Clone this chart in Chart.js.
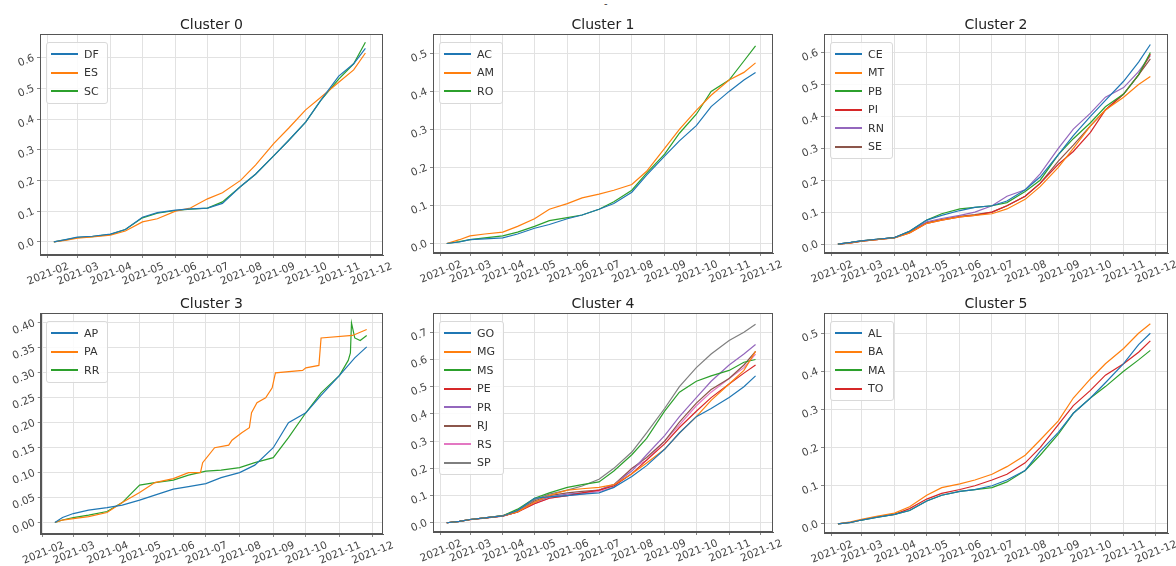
<!DOCTYPE html>
<html lang="pt">
<head>
  <meta charset="UTF-8" />
  <title>Clusters</title>
  <script src="https://cdn.jsdelivr.net/npm/chart.js"></script>
  <style>
    * { box-sizing: border-box; margin: 0; padding: 0; }
    body { background: #fff; font-family: 'DejaVu Sans', sans-serif; }
    #page { position: relative; width: 1176px; height: 566px; overflow: hidden; }
    .panel { position: absolute; }
    .panel canvas { display: block; }
    .title { position: absolute; font-size: 14px; color: #222; text-align: center; white-space: nowrap; }
    .legend { position: absolute; background: rgba(255,255,255,0.85); border: 1px solid #d9d9d9; border-radius: 3px; padding: 2px 8px 2px 4px; }
    .legend div { display: flex; align-items: center; height: 18.5px; font-size: 11px; color: #333; }
    .legend .sw { display: inline-block; width: 27px; height: 2px; margin-right: 6px; }
    .dash { position: absolute; left: 604px; top: -2px; font-size: 10px; color: #444; }
  </style>
</head>
<body>
  <div id="page"><div class="dash">-</div></div>

  <script>
    // sample dates (read every ~2 weeks off the picture)
    const dates = ['2021-02-07','2021-02-19','2021-03-01','2021-03-15','2021-04-01','2021-04-15','2021-05-01',
      '2021-05-15','2021-06-01','2021-06-15','2021-07-01','2021-07-15','2021-08-01','2021-08-15','2021-09-01',
      '2021-09-15','2021-10-01','2021-10-15','2021-11-01','2021-11-15','2021-11-26'];
    const apDates = ['2021-02-12','2021-02-19','2021-03-01','2021-03-15','2021-04-01','2021-04-15','2021-05-01',
      '2021-05-15','2021-06-01','2021-06-15','2021-07-01','2021-07-15','2021-08-01','2021-08-15','2021-09-01',
      '2021-09-15','2021-10-01','2021-10-15','2021-11-01','2021-11-15','2021-11-26'];
    const paDates = ['2021-02-12','2021-02-19','2021-03-01','2021-03-15','2021-04-01','2021-04-15','2021-05-01',
      '2021-05-15','2021-06-01','2021-06-15','2021-06-26','2021-06-28','2021-07-09','2021-07-22','2021-07-25',
      '2021-08-03','2021-08-10','2021-08-12','2021-08-17','2021-08-25','2021-08-31','2021-09-03','2021-09-28',
      '2021-10-01','2021-10-13','2021-10-15','2021-11-13','2021-11-26'];
    const rrDates = ['2021-02-12','2021-02-19','2021-03-01','2021-03-15','2021-04-01','2021-04-15','2021-05-01',
      '2021-05-15','2021-06-01','2021-06-15','2021-07-01','2021-07-15','2021-08-01','2021-08-15','2021-09-01',
      '2021-09-15','2021-10-01','2021-10-15','2021-11-01','2021-11-09','2021-11-11','2021-11-12','2021-11-15',
      '2021-11-20','2021-11-26'];
    const monthTicks = ['2021-02','2021-03','2021-04','2021-05','2021-06','2021-07','2021-08','2021-09','2021-10','2021-11','2021-12'];

    // Cluster 0
    const c0DF = [0, .008, .015, .018, .025, .04, .08, .095, .103, .107, .11, .125, .18, .22, .28, .33, .39, .46, .54, .58, .63];
    const c0ES = [0, .005, .012, .016, .022, .035, .065, .075, .1, .11, .14, .16, .2, .25, .32, .37, .43, .47, .52, .56, .615];
    const c0SC = [0, .007, .014, .017, .024, .04, .078, .093, .102, .106, .11, .13, .18, .22, .28, .33, .39, .46, .53, .58, .65];
    // Cluster 1
    const c1AC = [0, .004, .01, .012, .015, .025, .04, .05, .065, .075, .09, .105, .135, .18, .23, .27, .31, .36, .4, .43, .45];
    const c1AM = [0, .01, .02, .025, .03, .045, .065, .09, .105, .12, .13, .14, .155, .19, .25, .3, .35, .39, .43, .45, .475];
    const c1RO = [0, .005, .01, .015, .02, .03, .045, .06, .068, .075, .09, .11, .14, .185, .235, .29, .34, .4, .43, .48, .52];
    // Cluster 2
    const c2CE = [0, .005, .01, .015, .02, .04, .075, .09, .105, .115, .12, .135, .17, .21, .28, .34, .4, .45, .51, .57, .625];
    const c2MT = [0, .004, .009, .014, .019, .035, .065, .075, .085, .09, .095, .11, .14, .18, .24, .3, .37, .42, .46, .5, .525];
    const c2PB = [0, .005, .01, .015, .02, .04, .075, .095, .11, .115, .12, .13, .165, .2, .28, .33, .38, .43, .47, .53, .6];
    const c2PI = [0, .004, .009, .014, .02, .035, .065, .075, .085, .09, .1, .12, .15, .19, .25, .29, .35, .42, .47, .53, .595];
    const c2RN = [0, .005, .01, .015, .02, .04, .07, .08, .09, .1, .12, .15, .17, .22, .3, .36, .41, .46, .49, .54, .59];
    const c2SE = [0, .004, .009, .014, .02, .037, .067, .077, .087, .092, .1, .12, .15, .19, .26, .31, .37, .42, .47, .53, .58];
    // Cluster 3
    const c3AP = [0, .01, .018, .025, .03, .035, .045, .055, .067, .072, .078, .09, .1, .115, .15, .2, .22, .255, .295, .33, .352];
    const c3PA = [0, .005, .008, .012, .02, .04, .06, .08, .088, .1, .1, .12, .15, .155, .165, .18, .19, .22, .24, .25, .27, .3,
      .305, .31, .315, .37, .375, .387];
    const c3RR = [0, .005, .01, .015, .022, .04, .075, .08, .085, .095, .103, .105, .11, .12, .13, .17, .22, .26, .295, .325,
      .34, .4, .37, .365, .375];
    // Cluster 4
    const c4GO = [0, .005, .012, .018, .025, .045, .09, .095, .1, .105, .11, .13, .17, .21, .27, .33, .39, .42, .46, .5, .54];
    const c4MG = [0, .005, .012, .018, .025, .04, .075, .1, .12, .125, .13, .14, .18, .22, .27, .33, .39, .45, .51, .56, .63];
    const c4MS = [0, .005, .012, .018, .026, .05, .09, .11, .13, .14, .15, .19, .25, .31, .41, .48, .52, .54, .56, .59, .6];
    const c4PE = [0, .005, .011, .017, .024, .04, .07, .09, .1, .11, .12, .135, .18, .23, .29, .35, .41, .46, .51, .55, .58];
    const c4PR = [0, .005, .012, .018, .025, .04, .075, .095, .105, .11, .12, .14, .19, .25, .32, .39, .46, .52, .58, .62, .655];
    const c4RJ = [0, .005, .012, .018, .025, .04, .08, .1, .11, .115, .12, .14, .2, .24, .3, .37, .44, .49, .53, .58, .63];
    const c4RS = [0, .005, .012, .018, .025, .04, .07, .09, .1, .105, .115, .13, .2, .23, .3, .36, .43, .48, .53, .57, .62];
    const c4SP = [0, .005, .012, .018, .026, .045, .085, .105, .12, .135, .16, .2, .26, .33, .42, .5, .57, .62, .67, .7, .73];
    // Cluster 5
    const c5AL = [0, .004, .01, .017, .025, .035, .06, .075, .085, .09, .1, .115, .14, .19, .24, .29, .33, .37, .42, .47, .5];
    const c5BA = [0, .005, .012, .02, .028, .045, .075, .095, .105, .115, .13, .15, .18, .22, .27, .33, .38, .42, .46, .5, .525];
    const c5MA = [0, .004, .01, .017, .025, .035, .06, .075, .085, .09, .095, .11, .14, .18, .235, .29, .33, .36, .4, .43, .455];
    const c5TO = [0, .004, .01, .018, .025, .04, .065, .08, .09, .1, .115, .13, .16, .2, .26, .31, .35, .39, .42, .45, .48];

    const clusters = [
      { title: 'Cluster 0', series: [['DF', dates, c0DF], ['ES', dates, c0ES], ['SC', dates, c0SC]] },
      { title: 'Cluster 1', series: [['AC', dates, c1AC], ['AM', dates, c1AM], ['RO', dates, c1RO]] },
      { title: 'Cluster 2', series: [['CE', dates, c2CE], ['MT', dates, c2MT], ['PB', dates, c2PB], ['PI', dates, c2PI], ['RN', dates, c2RN], ['SE', dates, c2SE]] },
      { title: 'Cluster 3', series: [['AP', apDates, c3AP], ['PA', paDates, c3PA], ['RR', rrDates, c3RR]] },
      { title: 'Cluster 4', series: [['GO', dates, c4GO], ['MG', dates, c4MG], ['MS', dates, c4MS], ['PE', dates, c4PE], ['PR', dates, c4PR], ['RJ', dates, c4RJ], ['RS', dates, c4RS], ['SP', dates, c4SP]] },
      { title: 'Cluster 5', series: [['AL', dates, c5AL], ['BA', dates, c5BA], ['MA', dates, c5MA], ['TO', dates, c5TO]] }
    ];

    // plot area boxes + axis ranges for each panel (x in days since 2021-01-01)
    const boxes = [
      { l: 40,  t: 34,  r: 383,  b: 255, xMin: 24, xMax: 345.5, yMin: -0.043, yMax: 0.677, step: 0.1,  dec: 1 },
      { l: 433, t: 34,  r: 773,  b: 253, xMin: 24, xMax: 345.5, yMin: -0.025, yMax: 0.551, step: 0.1,  dec: 1 },
      { l: 824, t: 34,  r: 1168, b: 253, xMin: 24, xMax: 345.5, yMin: -0.028, yMax: 0.658, step: 0.1,  dec: 1 },
      { l: 40,  t: 313, r: 383,  b: 534, xMin: 29, xMax: 344,   yMin: -0.023, yMax: 0.42,  step: 0.05, dec: 2 },
      { l: 433, t: 313, r: 773,  b: 532, xMin: 24, xMax: 345.5, yMin: -0.034, yMax: 0.771, step: 0.1,  dec: 1 },
      { l: 824, t: 313, r: 1168, b: 533, xMin: 24, xMax: 345.5, yMin: -0.024, yMax: 0.553, step: 0.1,  dec: 1 }
    ];

    const colors = ['#1f77b4', '#ff7f0e', '#2ca02c', '#d62728', '#9467bd', '#8c564b', '#e377c2', '#7f7f7f'];
    const day = s => (Date.UTC(2021, +s.slice(5, 7) - 1, +(s.slice(8, 10) || 1)) - Date.UTC(2021, 0, 1)) / 864e5;
    const tickFont = { family: 'DejaVu Sans', size: 10.5 };

    const frame = {
      id: 'frame',
      afterDraw(chart) {
        const a = chart.chartArea, ctx = chart.ctx;
        ctx.save();
        ctx.strokeStyle = '#555';
        ctx.lineWidth = 1;
        ctx.strokeRect(Math.round(a.left) + 0.5, Math.round(a.top) + 0.5, Math.round(a.right - a.left) - 1, Math.round(a.bottom - a.top) - 1);
        ctx.restore();
      }
    };

    const page = document.getElementById('page');

    clusters.forEach((cl, i) => {
      const bx = boxes[i];
      const padTop = 12, yW = 40, xH = 34, padRight = 14;

      const div = document.createElement('div');
      div.className = 'panel';
      div.style.left = (bx.l - yW) + 'px';
      div.style.top = (bx.t - padTop) + 'px';
      const w = bx.r - bx.l + yW + padRight, h = bx.b - bx.t + padTop + xH;
      div.style.width = w + 'px';
      div.style.height = h + 'px';
      const cv = document.createElement('canvas');
      cv.width = w;
      cv.height = h;
      cv.style.width = w + 'px';
      cv.style.height = h + 'px';
      div.appendChild(cv);
      page.appendChild(div);

      const title = document.createElement('div');
      title.className = 'title';
      title.textContent = cl.title;
      title.style.left = bx.l + 'px';
      title.style.width = (bx.r - bx.l) + 'px';
      title.style.top = (bx.t - 18) + 'px';
      page.appendChild(title);

      const datasets = cl.series.map(([name, ds, vals], k) => ({
        label: name,
        data: vals.map((v, j) => ({ x: day(ds[j]), y: v })),
        borderColor: colors[k],
        borderWidth: 1.2,
        pointRadius: 0,
        tension: 0,
        fill: false
      }));

      new Chart(cv, {
        type: 'line',
        data: { datasets },
        plugins: [frame],
        options: {
          responsive: false,
          animation: false,
          layout: { padding: { top: padTop, right: padRight, left: 0, bottom: 0 } },
          plugins: { legend: { display: false }, tooltip: { enabled: false } },
          scales: {
            x: {
              type: 'linear', min: bx.xMin, max: bx.xMax,
              afterBuildTicks: s => { s.ticks = monthTicks.map(m => ({ value: day(m) })); },
              afterFit: s => { s.height = xH; },
              ticks: { autoSkip: false, callback: (v, idx) => monthTicks[idx], minRotation: 22, maxRotation: 22, labelOffset: 21, padding: 2, color: '#444', font: tickFont },
              grid: { color: '#e2e2e2', tickLength: 3, tickColor: '#888' },
              border: { color: '#555' }
            },
            y: {
              min: bx.yMin, max: bx.yMax,
              afterFit: s => { s.width = yW; },
              ticks: { autoSkip: false, stepSize: bx.step, includeBounds: false, callback: v => v.toFixed(bx.dec), minRotation: 22, maxRotation: 22, padding: 3, color: '#444', font: tickFont },
              grid: { color: '#e2e2e2', tickLength: 3, tickColor: '#888' },
              border: { color: '#555' }
            }
          }
        }
      });

      const lg = document.createElement('div');
      lg.className = 'legend';
      lg.style.left = (bx.l + 6) + 'px';
      lg.style.top = (bx.t + 8) + 'px';
      datasets.forEach(d => {
        const row = document.createElement('div');
        const sw = document.createElement('span');
        sw.className = 'sw';
        sw.style.background = d.borderColor;
        row.appendChild(sw);
        row.appendChild(document.createTextNode(d.label));
        lg.appendChild(row);
      });
      page.appendChild(lg);
    });
  </script>
</body>
</html>
